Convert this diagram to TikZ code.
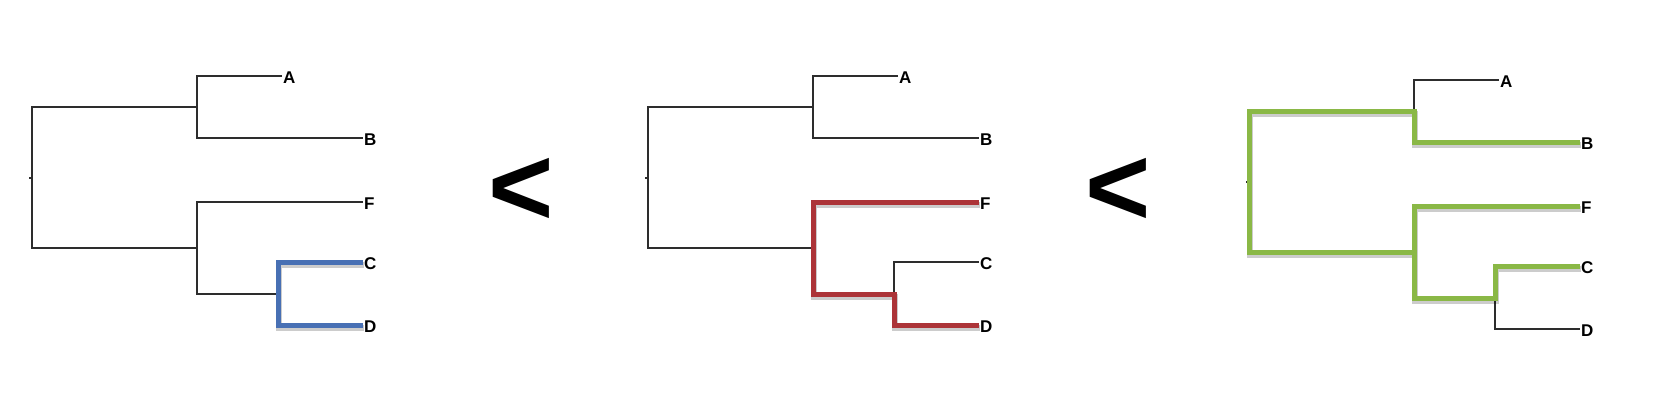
\documentclass[tikz,border=0pt]{standalone}
\usepackage{fontspec}
\setmainfont{Liberation Sans}
\definecolor{hlblue}{RGB}{72,112,180}
\definecolor{hlred}{RGB}{172,52,56}
\definecolor{hlgreen}{RGB}{138,184,70}
\definecolor{branchgray}{RGB}{45,45,45}
\begin{document}
\begin{tikzpicture}[x=1pt,y=-1pt,
  branch/.style={draw=branchgray,line width=2.2pt},
  leaf/.style={anchor=west,inner sep=1pt,yshift=-1.5pt,font=\fontsize{17}{17}\selectfont\bfseries},
  hl/.style={draw=#1,line width=5pt},
  hlshadow/.style={draw=black,opacity=0.2,line width=6pt},
  lt/.style={inner sep=0pt,font=\fontsize{112}{112}\selectfont\bfseries},
  tree/.pic={
    \coordinate (-rt) at (32,107);
    \coordinate (-rb) at (32,248);
    \coordinate (-rm) at (32,178);
    \coordinate (-tick) at (29,178);
    \coordinate (-ab) at (197,107);
    \coordinate (-a) at (197,76);
    \coordinate (-b) at (197,138);
    \coordinate (-ae) at (282,76);
    \coordinate (-be) at (363,138);
    \coordinate (-fcd) at (197,248);
    \coordinate (-f) at (197,202);
    \coordinate (-fe) at (363,202);
    \coordinate (-cdj) at (197,294);
    \coordinate (-cdm) at (278,294);
    \coordinate (-c) at (278,262);
    \coordinate (-ce) at (363,262);
    \coordinate (-d) at (278,325);
    \coordinate (-de) at (363,325);
    \node[leaf] (-A) at (-ae) {A};
    \node[leaf] (-B) at (-be) {B};
    \node[leaf] (-F) at (-fe) {F};
    \node[leaf] (-C) at (-ce) {C};
    \node[leaf] (-D) at (-de) {D};
    \draw[branch] (-ae) -- (-a) -- (-b) -- (-be);
    \draw[branch] (-ab) -- (-rt) -- (-rb) -- (-fcd);
    \draw[branch] (-tick) -- (-rm);
    \draw[branch] (-fe) -- (-f) -- (-cdj) -- (-cdm);
    \draw[branch] (-ce) -- (-c) -- (-d) -- (-de);
  }]
\useasboundingbox (0,0) rectangle (1664,404);

\pic (t1) at (0,0) {tree};
\pic (t2) at (616,0) {tree};
\pic (t3) at (1217,4) {tree};

% drop shadows of the highlighted paths
\begin{scope}[transform canvas={xshift=1pt,yshift=-3pt}]
\draw[hlshadow] (t1-ce) -- (t1-c) -- (t1-d) -- (t1-de);
\draw[hlshadow] (t2-fe) -- (t2-f) -- (t2-cdj) -- (t2-cdm) -- (t2-d) -- (t2-de);
\draw[hlshadow] (t3-be) -- (t3-b) -- (t3-ab) -- (t3-rt) -- (t3-rb) -- (t3-fcd);
\draw[hlshadow] (t3-fe) -- (t3-f) -- (t3-cdj) -- (t3-cdm) -- (t3-c) -- (t3-ce);
\end{scope}

% tree 1: blue
\draw[hl=hlblue] (t1-ce) -- (t1-c) -- (t1-d) -- (t1-de);

% tree 2: red
\draw[hl=hlred] (t2-fe) -- (t2-f) -- (t2-cdj) -- (t2-cdm) -- (t2-d) -- (t2-de);

% tree 3: green
\draw[hl=hlgreen] (t3-be) -- (t3-b) -- (t3-ab) -- (t3-rt) -- (t3-rb) -- (t3-fcd);
\draw[hl=hlgreen] (t3-fe) -- (t3-f) -- (t3-cdj) -- (t3-cdm) -- (t3-c) -- (t3-ce);

\node[lt] (lt1) at (521,192) {<};
\node[lt] (lt2) at (1118,192) {<};
\end{tikzpicture}
\end{document}
